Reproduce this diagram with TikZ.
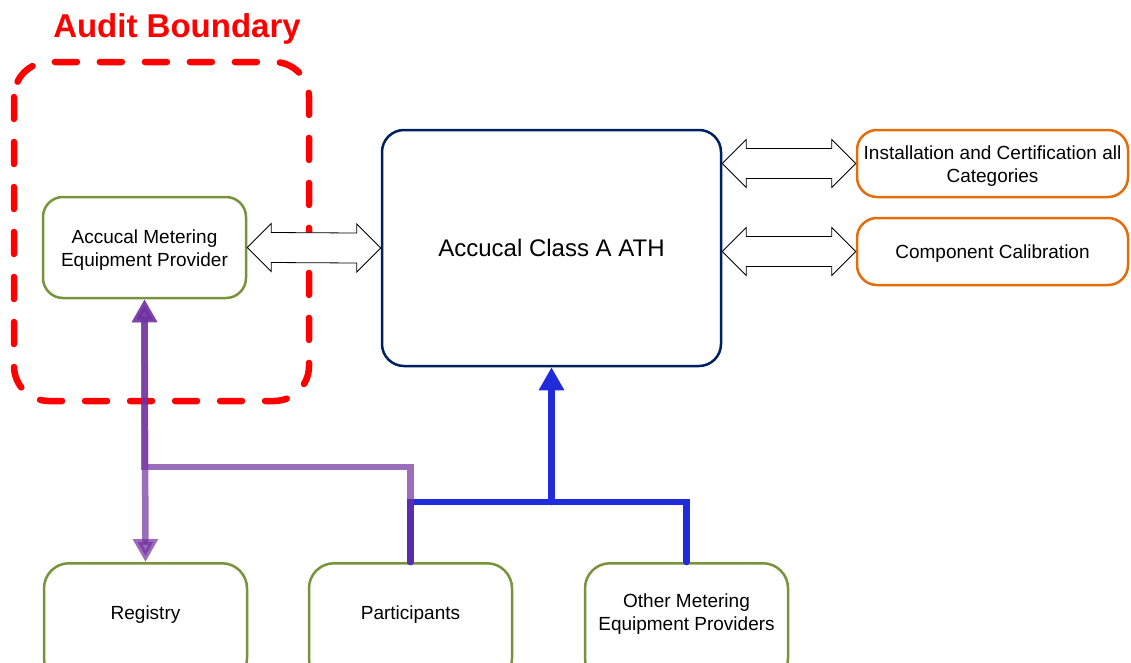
\documentclass[tikz,border=0pt]{standalone}
\usepackage{fontspec}
\setmainfont{Liberation Sans}
\usetikzlibrary{arrows.meta,calc}
\definecolor{olive}{RGB}{119,147,60}
\definecolor{navyb}{RGB}{0,32,96}
\definecolor{orng}{RGB}{228,108,10}
\definecolor{blu}{RGB}{32,44,220}
\definecolor{purp}{RGB}{112,48,160}
\newcommand{\blockarrow}[2]{%
\draw[blockarr] (#1) -- ++(24,-24) -- ++(0,9) -- ($(#2)+(-24,-15)$) -- ++(0,-9) -- (#2) -- ++(-24,24) -- ++(0,-9) -- ($(#1)+(24,15)$) -- ++(0,9) -- cycle;}
\begin{document}
\begin{tikzpicture}[x=1pt,y=-1pt,
  txt/.style={font=\fontsize{19}{23}\selectfont, align=center, inner sep=0pt, yshift=-2.5pt},
  gbox/.style={draw=olive, line width=2.5pt, rounded corners=20pt, fill=white, inner sep=0pt},
  obox/.style={draw=orng, line width=2.5pt, rounded corners=20pt, fill=white, inner sep=0pt},
  nbox/.style={draw=navyb, line width=2.5pt, rounded corners=22pt, fill=white, inner sep=0pt},
  blockarr/.style={draw=black, line width=0.8pt, fill=white, line join=miter},
  bline/.style={draw=blu, line width=6.5pt, line cap=round, line join=miter},
  pline/.style={draw=purp, draw opacity=0.7, fill opacity=0.7, line width=6.5pt, line cap=round, line join=miter},
  tip/.style={-{Triangle[length=23pt,width=24pt]}},
  btip/.style={{Triangle[length=23pt,width=24pt]}-{Triangle[length=23pt,width=24pt]}}
]
\useasboundingbox (0,0) rectangle (1131,662);
% audit boundary
\node[text=red, font=\fontsize{33}{38}\selectfont\bfseries, inner sep=0pt, anchor=base] (audtitle) at (177,37) {Audit Boundary};
\draw[red, line width=6.5pt, line cap=round, dash pattern=on 22pt off 23pt, rounded corners=35pt] (14,62) rectangle (309,401);
% boxes
\node[gbox, minimum width=203pt, minimum height=101pt] (amep) at (144.5,247.5) {};
\node[nbox, minimum width=339pt, minimum height=236pt] (ath) at (551.5,248) {};
\node[obox, minimum width=271pt, minimum height=67pt] (inst) at (992.5,163.5) {};
\node[obox, minimum width=271pt, minimum height=67pt] (comp) at (992.5,251.5) {};
\node[gbox, rounded corners=25pt, minimum width=203pt, minimum height=120pt, anchor=north] (reg) at (145.5,562) {};
\node[gbox, rounded corners=25pt, minimum width=203pt, minimum height=120pt, anchor=north] (part) at (410.5,562) {};
\node[gbox, rounded corners=25pt, minimum width=203pt, minimum height=120pt, anchor=north] (other) at (686.5,562) {};
% texts
\node[txt] (ameptxt) at (amep.center) {Accucal Metering\\Equipment Provider};
\node[font=\fontsize{24}{29}\selectfont, inner sep=0pt, yshift=-1pt] (athtxt) at (551.5,247) {Accucal Class A ATH};
\node[txt] (insttxt) at (inst.center) {Installation and Certification all\\Categories};
\node[txt] (comptxt) at (comp.center) {Component Calibration};
\node[txt] (regtxt) at (145.5,612) {Registry};
\node[txt] (parttxt) at (410.5,612) {Participants};
\node[txt] (othertxt) at (686.5,612) {Other Metering\\Equipment Providers};
% block arrows
\blockarrow{amep.east}{ath.west}
\blockarrow{ath.east |- inst.west}{inst.west}
\blockarrow{ath.east |- comp.west}{comp.west}
% blue connectors
\coordinate (bj) at (551.5,502);
\draw[bline] (part.north) -- (part.north |- bj) -- (other.north |- bj) -- (other.north);
\draw[bline, tip] (bj) -- (ath.south);
% purple connectors
\coordinate (pj) at (410.5,467);
\draw[pline, tip] (part.north) -- (part.north |- pj) -- (amep.south |- pj) -- (amep.south);
\draw[pline, btip] (amep.south) -- (reg.north);
\end{tikzpicture}
\end{document}
